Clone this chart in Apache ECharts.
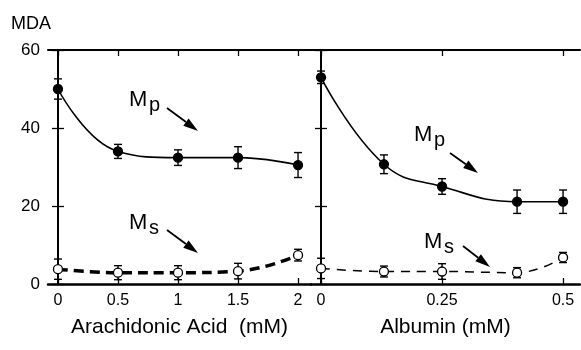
<!DOCTYPE html>
<html>
<head>
<meta charset="utf-8">
<script src="https://cdn.jsdelivr.net/npm/echarts@6/dist/echarts.min.js"></script>
<style>html,body{margin:0;background:#fff}#chart{width:581px;height:350px}</style>
</head>
<body>
<div id="chart"></div>
<script>
// arachidonic acid panel
const aaConc = [0, 0.5, 1, 1.5, 2]
const aaMp = [50, 34, 32.4, 32.4, 30.5]
const aaMpErr = [2.6, 1.8, 2, 2.8, 3.2]
const aaMs = [3.8, 2.9, 2.9, 3.3, 7.4]
const aaMsErr = [2.6, 1.8, 1.8, 2, 1.5]

// albumin panel
const albConc = [0, 0.13, 0.25, 0.405, 0.5]
const albMp = [53, 30.7, 25, 21.1, 21.1]
const albMpErr = [1.6, 2.4, 2, 3, 3]
const albMs = [4, 3.2, 3.2, 2.9, 6.8]
const albMsErr = [2.6, 1.4, 2, 1.3, 1.3]

const aaTicks = [0, 0.5, 1, 1.5, 2]
const albTicks = [0, 0.25, 0.5]
const yTicks = [0, 20, 40, 60]

const FONT = "'Liberation Sans', Arial, sans-serif"
const chart = echarts.init(document.getElementById('chart'))

const pts = (xs, ys) => xs.map((x, i) => [x, ys[i]])
const errPts = (xs, ys, es) => xs.map((x, i) => [x, ys[i], es[i]])

function errorBars(data, gi) {
  return {
    type: 'custom',
    xAxisIndex: gi * 2,
    yAxisIndex: gi * 2,
    data: data,
    z: 1,
    silent: true,
    renderItem: (params, api) => {
      const x = api.value(0), y = api.value(1), e = api.value(2)
      const hi = api.coord([x, y + e])
      const lo = api.coord([x, y - e])
      const w = 4
      const st = { stroke: '#000', lineWidth: 1.4 }
      return {
        type: 'group',
        children: [
          { type: 'line', shape: { x1: hi[0], y1: hi[1], x2: lo[0], y2: lo[1] }, style: st },
          { type: 'line', shape: { x1: hi[0] - w, y1: hi[1], x2: hi[0] + w, y2: hi[1] }, style: st },
          { type: 'line', shape: { x1: lo[0] - w, y1: lo[1], x2: lo[0] + w, y2: lo[1] }, style: st },
        ],
      }
    },
  }
}

function lineSeries(data, gi, filled, dash) {
  return {
    type: 'line',
    xAxisIndex: gi * 2,
    yAxisIndex: gi * 2,
    data: data,
    smooth: 0.45,
    symbol: 'circle',
    symbolSize: 9,
    z: 3,
    itemStyle: { color: filled ? '#000' : '#fff', borderColor: '#000', borderWidth: 1.3 },
    lineStyle: dash
      ? { color: '#000', width: dash.w, type: dash.d }
      : { color: '#000', width: 1.6 },
  }
}

function bottomAxis(gi, min, max, ticks, name) {
  return {
    type: 'value', gridIndex: gi, position: 'bottom', min: min, max: max,
    name: name, nameLocation: 'middle', nameGap: 33,
    nameTextStyle: { fontFamily: FONT, fontSize: 21, color: '#000' },
    axisLine: { onZero: false, lineStyle: { color: '#000', width: 2.5 } },
    axisTick: { inside: true, length: 6, customValues: ticks, lineStyle: { color: '#000', width: 1.3 } },
    axisLabel: { customValues: ticks, fontFamily: FONT, fontSize: 16, color: '#000', margin: 9 },
    splitLine: { show: false },
  }
}

function topAxis(gi, min, max, ticks) {
  return {
    type: 'value', gridIndex: gi, position: 'top', min: min, max: max,
    axisLine: { onZero: false, lineStyle: { color: '#000', width: 2 } },
    axisTick: { inside: true, length: 6, customValues: ticks, lineStyle: { color: '#000', width: 1.3 } },
    axisLabel: { show: false },
    splitLine: { show: false },
  }
}

function yAxis(gi, pos, labels) {
  return {
    type: 'value', gridIndex: gi, position: pos, min: 0, max: 60,
    axisLine: { show: true, lineStyle: { color: '#000', width: 2 } },
    axisTick: { show: true, inside: true, length: 6, customValues: yTicks, lineStyle: { color: '#000', width: 1.3 } },
    axisLabel: labels
      ? { customValues: yTicks, fontFamily: FONT, fontSize: 17, color: '#000', margin: 8 }
      : { show: false },
    splitLine: { show: false },
  }
}

function arrow(x1, y1, x2, y2) {
  const a = Math.atan2(y2 - y1, x2 - x1)
  const L = 15, W = 4.5
  const bx = x2 - L * Math.cos(a), by = y2 - L * Math.sin(a)
  const nx = -Math.sin(a) * W, ny = Math.cos(a) * W
  return [
    { type: 'line', shape: { x1: x1, y1: y1, x2: bx, y2: by }, style: { stroke: '#000', lineWidth: 1.8 } },
    { type: 'polygon', shape: { points: [[x2, y2], [bx + nx, by + ny], [bx - nx, by - ny]] }, style: { fill: '#000' } },
  ]
}

function label(x, y, sub) {
  const ts = { fontFamily: FONT, fill: '#000' }
  return [
    { type: 'text', x: x, y: y, style: Object.assign({ text: 'M', fontSize: 22 }, ts) },
    { type: 'text', x: x + 20, y: y + 6, style: Object.assign({ text: sub, fontSize: 20 }, ts) },
  ]
}

const option = {
  animation: false,
  grid: [
    { left: 48, top: 50, width: 263, height: 234 },
    { left: 311, top: 50, width: 269, height: 234 },
  ],
  xAxis: [
    bottomAxis(0, -0.083, 2.108, aaTicks, 'Arachidonic Acid  (mM)'),
    topAxis(0, -0.083, 2.108, aaTicks),
    bottomAxis(1, -0.0207, 0.535, albTicks, 'Albumin (mM)'),
    topAxis(1, -0.0207, 0.535, albTicks),
  ],
  yAxis: [
    yAxis(0, 'left', true),
    yAxis(0, 'right', false),
    yAxis(1, 'left', false),
    yAxis(1, 'right', false),
  ],
  series: [
    errorBars(errPts(aaConc, aaMp, aaMpErr), 0),
    errorBars(errPts(aaConc, aaMs, aaMsErr), 0),
    errorBars(errPts(albConc, albMp, albMpErr), 1),
    errorBars(errPts(albConc, albMs, albMsErr), 1),
    lineSeries(pts(aaConc, aaMp), 0, true),
    lineSeries(pts(aaConc, aaMs), 0, false, { w: 3.5, d: [10, 6] }),
    lineSeries(pts(albConc, albMp), 1, true),
    lineSeries(pts(albConc, albMs), 1, false, { w: 1.5, d: [9, 7] }),
  ],
  graphic: [
    { type: 'text', x: 11, y: 15, style: { text: 'MDA', fontFamily: FONT, fontSize: 18, fill: '#000' } },
    ...label(129, 89, 'p'),
    ...arrow(167, 108, 198, 131),
    ...label(129, 212, 's'),
    ...arrow(167, 230, 198, 253),
    ...label(414, 124, 'p'),
    ...arrow(450, 153, 478, 173),
    ...label(424, 231, 's'),
    ...arrow(463, 246, 490, 267),
  ],
}

chart.setOption(option)
</script>
</body>
</html>
